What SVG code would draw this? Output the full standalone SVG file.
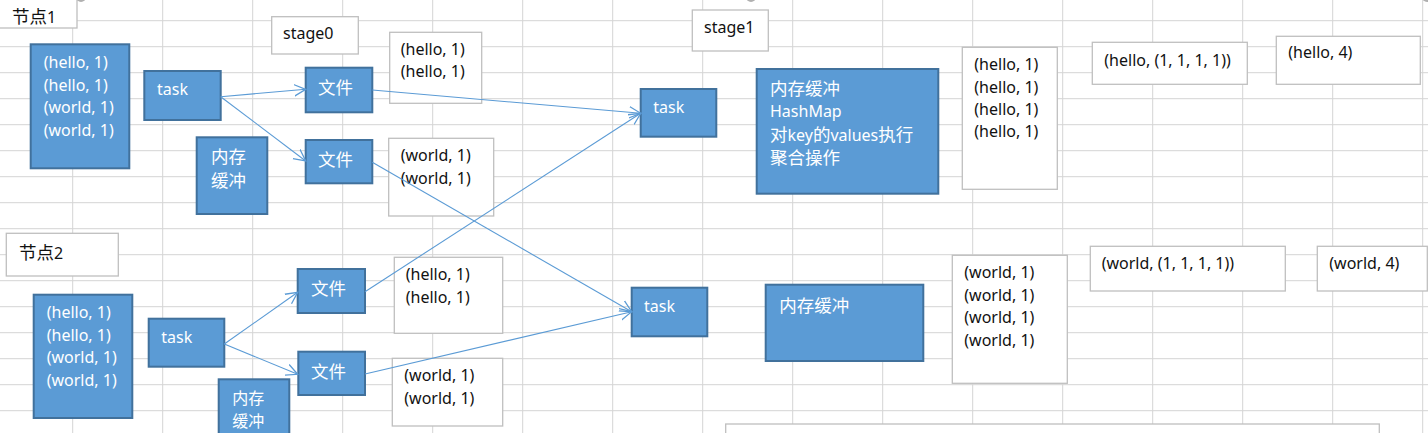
<svg xmlns="http://www.w3.org/2000/svg" width="1428" height="433" viewBox="0 0 1428 433">
<defs>
<style>
.grid line{stroke:#d4d4d4;stroke-width:1}
.blue{fill:#5b9bd5;stroke:#41719c;stroke-width:2}
.white{fill:#ffffff;stroke:#bfbfbf;stroke-width:1.3}
.tw{fill:#ffffff;font-family:"Noto Sans","Noto Sans CJK SC",sans-serif;font-size:16px}
.tb{fill:#111111;font-family:"Noto Sans","Noto Sans CJK SC",sans-serif;font-size:16px}
.cjk{font-family:"Noto Sans CJK SC",sans-serif;font-size:17.5px}
.conn line{stroke:#5b9bd5;stroke-width:1.1;fill:none}
.handle{fill:#b0b0b0}
</style>
<marker id="arr" markerUnits="userSpaceOnUse" markerWidth="14" markerHeight="14" refX="10" refY="5" orient="auto" viewBox="0 0 12 10">
<path d="M0,0 L10,5 L0,10" fill="none" stroke="#5b9bd5" stroke-width="1.1"/>
</marker>
</defs>
<rect x="0" y="0" width="1428" height="433" fill="#ffffff"/>
<g class="grid">
<line x1="72.7" y1="0" x2="72.7" y2="433"/><line x1="162.7" y1="0" x2="162.7" y2="433"/><line x1="252.7" y1="0" x2="252.7" y2="433"/><line x1="342.7" y1="0" x2="342.7" y2="433"/><line x1="432.7" y1="0" x2="432.7" y2="433"/><line x1="522.7" y1="0" x2="522.7" y2="433"/><line x1="612.7" y1="0" x2="612.7" y2="433"/><line x1="702.7" y1="0" x2="702.7" y2="433"/><line x1="792.7" y1="0" x2="792.7" y2="433"/><line x1="882.7" y1="0" x2="882.7" y2="433"/><line x1="972.7" y1="0" x2="972.7" y2="433"/><line x1="1062.7" y1="0" x2="1062.7" y2="433"/><line x1="1152.7" y1="0" x2="1152.7" y2="433"/><line x1="1242.7" y1="0" x2="1242.7" y2="433"/><line x1="1332.7" y1="0" x2="1332.7" y2="433"/><line x1="1422.7" y1="0" x2="1422.7" y2="433"/>
<line x1="0" y1="20.7" x2="1428" y2="20.7"/><line x1="0" y1="46.7" x2="1428" y2="46.7"/><line x1="0" y1="72.7" x2="1428" y2="72.7"/><line x1="0" y1="98.7" x2="1428" y2="98.7"/><line x1="0" y1="124.7" x2="1428" y2="124.7"/><line x1="0" y1="150.7" x2="1428" y2="150.7"/><line x1="0" y1="176.7" x2="1428" y2="176.7"/><line x1="0" y1="202.7" x2="1428" y2="202.7"/><line x1="0" y1="228.7" x2="1428" y2="228.7"/><line x1="0" y1="254.7" x2="1428" y2="254.7"/><line x1="0" y1="280.7" x2="1428" y2="280.7"/><line x1="0" y1="306.7" x2="1428" y2="306.7"/><line x1="0" y1="332.7" x2="1428" y2="332.7"/><line x1="0" y1="358.7" x2="1428" y2="358.7"/><line x1="0" y1="384.7" x2="1428" y2="384.7"/><line x1="0" y1="410.7" x2="1428" y2="410.7"/>
</g>

<g id="label-node1"><rect class="white" x="-5" y="-5" width="82" height="33"/><text class="tb" x="12" y="22.5"><tspan class="cjk">节点</tspan>1</text></g>
<g id="label-stage0"><rect class="white" x="271.7" y="16.7" width="86.6" height="37.3"/><text class="tb" x="283" y="39">stage0</text></g>
<g id="label-stage1"><rect class="white" x="692.3" y="10" width="76" height="41"/><text class="tb" x="704" y="33.3">stage1</text></g>
<g id="label-node2"><rect class="white" x="6.3" y="233.3" width="112" height="42.7"/><text class="tb" x="19" y="258.5"><tspan class="cjk">节点</tspan>2</text></g>

<g id="n1-data"><rect class="blue" x="30.7" y="44.3" width="98.6" height="124"/>
<text class="tw" x="43.7" y="68.3">(hello, 1)</text><text class="tw" x="43.7" y="91">(hello, 1)</text><text class="tw" x="43.7" y="113.3">(world, 1)</text><text class="tw" x="43.7" y="135.7">(world, 1)</text></g>
<g id="n1-task"><rect class="blue" x="144.3" y="71" width="76.4" height="49"/><text class="tw" x="157" y="95">task</text></g>
<g id="n1-buffer"><rect class="blue" x="196.7" y="137.3" width="70.6" height="76.7"/><text class="tw cjk"><tspan x="211" y="162.5">内存</tspan><tspan x="211" y="186.5">缓冲</tspan></text></g>
<g id="n1-file1"><rect class="blue" x="305.7" y="67.7" width="66.6" height="44.6"/><text class="tw cjk" x="318" y="93.5">文件</text></g>
<g id="n1-file2"><rect class="blue" x="305.7" y="140" width="66.6" height="43.3"/><text class="tw cjk" x="318" y="165.5">文件</text></g>
<g id="n1-file1-data"><rect class="white" x="389.7" y="32.3" width="92" height="71"/><text class="tb" x="400.7" y="55">(hello, 1)</text><text class="tb" x="400.7" y="77.3">(hello, 1)</text></g>
<g id="n1-file2-data"><rect class="white" x="388.7" y="138.3" width="105" height="77.7"/><text class="tb" x="400.7" y="160.7">(world, 1)</text><text class="tb" x="400.7" y="184">(world, 1)</text></g>

<g id="n2-data"><rect class="blue" x="33.7" y="294.7" width="98.6" height="123.3"/>
<text class="tw" x="46.7" y="318.3">(hello, 1)</text><text class="tw" x="46.7" y="340.7">(hello, 1)</text><text class="tw" x="46.7" y="362.7">(world, 1)</text><text class="tw" x="46.7" y="385.7">(world, 1)</text></g>
<g id="n2-task"><rect class="blue" x="148.7" y="318.7" width="75.6" height="48"/><text class="tw" x="161.3" y="342.7">task</text></g>
<g id="n2-buffer"><rect class="blue" x="218.7" y="379.3" width="70.6" height="60"/><text class="tw cjk" style="font-size:16px"><tspan x="232.3" y="403.5">内存</tspan><tspan x="232.3" y="427">缓冲</tspan></text></g>
<g id="n2-file1"><rect class="blue" x="297.7" y="269" width="67.3" height="44"/><text class="tw cjk" x="311" y="294.8">文件</text></g>
<g id="n2-file2"><rect class="blue" x="298.3" y="351.7" width="66.7" height="43.3"/><text class="tw cjk" x="311" y="377.5">文件</text></g>
<g id="n2-file1-data"><rect class="white" x="394.3" y="257.3" width="108.4" height="76"/><text class="tb" x="405.7" y="280">(hello, 1)</text><text class="tb" x="405.7" y="302.7">(hello, 1)</text></g>
<g id="n2-file2-data"><rect class="white" x="392.3" y="358.3" width="110.4" height="67.7"/><text class="tb" x="404.3" y="381">(world, 1)</text><text class="tb" x="404.3" y="403.7">(world, 1)</text></g>

<g id="s1-task-hello"><rect class="blue" x="640.7" y="89" width="75.6" height="47.7"/><text class="tw" x="653.3" y="113.3">task</text></g>
<g id="s1-task-world"><rect class="blue" x="631.7" y="287.7" width="75.6" height="48.6"/><text class="tw" x="644" y="312">task</text></g>
<g id="s1-buffer-hello"><rect class="blue" x="756.7" y="69" width="181.6" height="124.7"/>
<text class="tw cjk" x="770" y="94.8">内存缓冲</text><text class="tw" x="770" y="116.5">HashMap</text><text class="tw" x="770" y="141"><tspan class="cjk">对</tspan>key<tspan class="cjk">的</tspan>values<tspan class="cjk">执行</tspan></text><text class="tw cjk" x="770" y="164.2">聚合操作</text></g>
<g id="s1-buffer-world"><rect class="blue" x="765.7" y="284.7" width="157.6" height="76.3"/><text class="tw cjk" x="779.3" y="311.5">内存缓冲</text></g>
<g id="s1-hello-list"><rect class="white" x="962.3" y="47.3" width="95" height="142"/><text class="tb" x="974.3" y="70">(hello, 1)</text><text class="tb" x="974.3" y="92.7">(hello, 1)</text><text class="tb" x="974.3" y="115">(hello, 1)</text><text class="tb" x="974.3" y="137.3">(hello, 1)</text></g>
<g id="s1-world-list"><rect class="white" x="952.3" y="255.3" width="115" height="128"/><text class="tb" x="964.3" y="278.3">(world, 1)</text><text class="tb" x="964.3" y="301">(world, 1)</text><text class="tb" x="964.3" y="323.3">(world, 1)</text><text class="tb" x="964.3" y="345.7">(world, 1)</text></g>
<g id="s1-hello-group"><rect class="white" x="1092.3" y="42.3" width="155" height="42"/><text class="tb" x="1104.3" y="65.7">(hello, (1, 1, 1, 1))</text></g>
<g id="s1-hello-result"><rect class="white" x="1276.3" y="36.3" width="144" height="48"/><text class="tb" x="1288.3" y="58.3">(hello, 4)</text></g>
<g id="s1-world-group"><rect class="white" x="1090.3" y="246.3" width="195" height="44.7"/><text class="tb" x="1101.7" y="269.3">(world, (1, 1, 1, 1))</text></g>
<g id="s1-world-result"><rect class="white" x="1317.3" y="246.3" width="110" height="44.7"/><text class="tb" x="1329.3" y="269.3">(world, 4)</text></g>
<g id="bottom-box"><rect class="white" x="725.7" y="424" width="653.6" height="30"/></g>

<g id="connectors" class="conn">
<line x1="220.7" y1="96.7" x2="305.7" y2="89.3" marker-end="url(#arr)"/>
<line x1="220.7" y1="96.7" x2="305.7" y2="161" marker-end="url(#arr)"/>
<line x1="372.3" y1="90" x2="640.7" y2="113.3" marker-end="url(#arr)"/>
<line x1="372.3" y1="162.3" x2="631.7" y2="311.7" marker-end="url(#arr)"/>
<line x1="365" y1="291.7" x2="640.7" y2="113.3" marker-end="url(#arr)"/>
<line x1="365" y1="374" x2="631.7" y2="311.7" marker-end="url(#arr)"/>
<line x1="224.3" y1="344" x2="297.7" y2="292.3" marker-end="url(#arr)"/>
<line x1="224.3" y1="344" x2="297.7" y2="374.3" marker-end="url(#arr)"/>
</g>
<g id="handles">
<circle class="handle" cx="81" cy="-3" r="5"/>
<circle class="handle" cx="751" cy="-3" r="5"/>
<circle class="handle" cx="1427" cy="-3" r="5"/>
</g>
</svg>
